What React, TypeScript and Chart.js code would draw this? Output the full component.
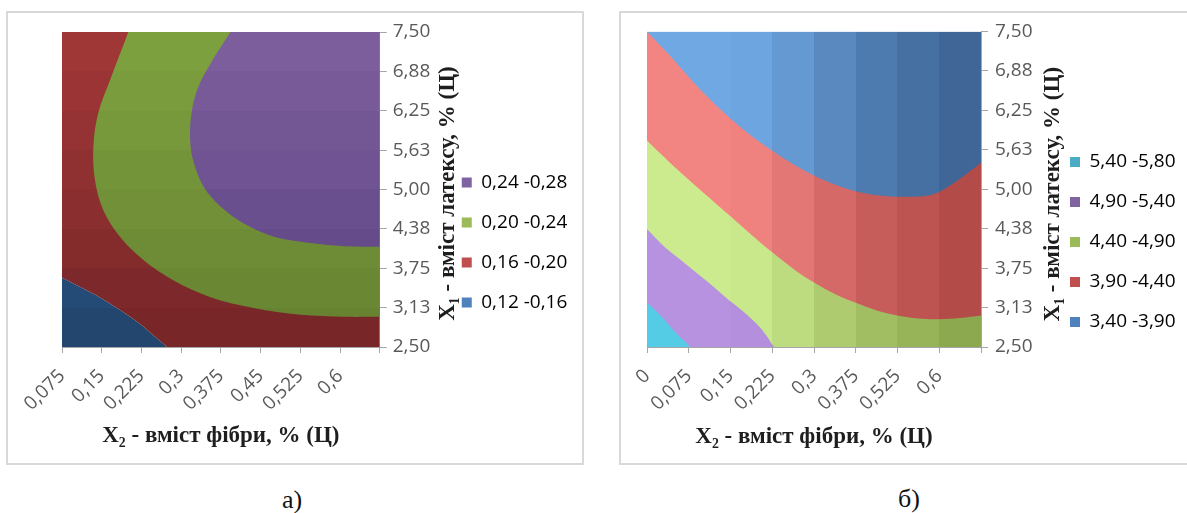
import React, { useEffect, useRef } from 'react';
import { Chart, registerables } from 'chart.js';

Chart.register(...registerables);

// ---------------- shared axis data ----------------
const X_TICK_POS = [0, 1, 2, 3, 4, 5, 6, 7, 8];
const Y_TICKS = [2.5, 3.125, 3.75, 4.375, 5.0, 5.625, 6.25, 6.875, 7.5];
const Y_LABELS = ['2,50', '3,13', '3,75', '4,38', '5,00', '5,63', '6,25', '6,88', '7,50'];
const X_TITLE = 'X₂ - вміст фібри, % (Ц)';
const Y_TITLE = 'X₁ - вміст латексу, % (Ц)';

// ---------------- chart а) ----------------
const A_X_LABELS = ['0,075', '0,15', '0,225', '0,3', '0,375', '0,45', '0,525', '0,6'];
const A_SERIES = ['0,24 -0,28', '0,20 -0,24', '0,16 -0,20', '0,12 -0,16'];
// contour line 0,16 (blue | red)
const A_B016_X = [0, 0.5, 1.0, 1.5, 2.0, 2.35, 2.65, 3.05, 8];
const A_B016_Y = [3.6, 3.44, 3.27, 3.07, 2.85, 2.66, 2.5, 2.3, 2.3];
// contour line 0,20 (red | green)
const A_B020_X = [0, 2.02, 1.67, 1.21, 0.91, 0.79, 0.83, 1.04, 1.46, 2.05, 2.8, 3.74, 4.82, 6.01, 7.1, 8];
const A_B020_Y = [8.1, 8.1, 7.5, 6.74, 6.21, 5.68, 5.15, 4.67, 4.25, 3.88, 3.56, 3.29, 3.12, 3.01, 2.98, 2.98];
// contour line 0,24 (green | purple)
const A_B024_X = [0, 4.74, 4.24, 3.74, 3.4, 3.25, 3.23, 3.32, 3.57, 3.99, 4.58, 5.34, 6.26, 7.1, 8];
const A_B024_Y = [8.0, 8.0, 7.5, 7.0, 6.58, 6.16, 5.74, 5.42, 5.04, 4.73, 4.46, 4.25, 4.15, 4.1, 4.09];

// ---------------- chart б) ----------------
const B_X_LABELS = ['0', '0,075', '0,15', '0,225', '0,3', '0,375', '0,525', '0,6'];
const B_SERIES = ['5,40 -5,80', '4,90 -5,40', '4,40 -4,90', '3,90 -4,40', '3,40 -3,90'];
// plot top edge (blue fills everything below it)
const B_TOP_X = [0, 8];
const B_TOP_Y = [7.5, 7.5];
// contour line 3,90 (blue | red)
const B_B390_X = [0, 0.6, 1.16, 1.8, 2.36, 3.0, 3.65, 4.29, 4.93, 5.57, 6.22, 6.86, 7.42, 8];
const B_B390_Y = [7.5, 7.08, 6.66, 6.24, 5.92, 5.61, 5.34, 5.13, 4.98, 4.9, 4.88, 4.92, 5.13, 5.42];
// contour line 4,40 (red | green)
const B_B440_X = [0, 0.5, 1, 1.5, 2, 2.5, 3, 3.5, 4, 4.5, 5, 5.5, 6, 6.5, 7, 7.5, 8];
const B_B440_Y = [5.77, 5.45, 5.15, 4.86, 4.57, 4.28, 4.0, 3.74, 3.52, 3.34, 3.2, 3.08, 3.0, 2.95, 2.94, 2.96, 3.0];
// contour line 4,90 (green | purple)
const B_B490_X = [0, 0.43, 0.92, 1.4, 1.88, 2.36, 2.76, 3.04];
const B_B490_Y = [4.37, 4.08, 3.82, 3.56, 3.29, 3.03, 2.77, 2.5];
// contour line 5,40 (purple | cyan)
const B_B540_X = [0, 0.35, 0.67, 1.04];
const B_B540_Y = [3.21, 2.98, 2.74, 2.5];

// ---------------- styles ----------------
type RGB = [number, number, number];
const A_LEGEND = ['#8064A2', '#9BBB59', '#C0504D', '#4F81BD'];
const B_LEGEND = ['#4BACC6', '#8064A2', '#9BBB59', '#C0504D', '#4F81BD'];
const A_ROW_SHADE = [0, 0.12, 0.24, 0.37, 0.5, 0.63, 0.77, 0.9];
const B_COL_SHADE = [0, 0, 0.05, 0.22, 0.45, 0.65, 0.8, 0.95];

const rgb = (c: RGB) => `rgb(${c[0]},${c[1]},${c[2]})`;
const mix = (a: RGB, b: RGB, t: number): RGB =>
  [0, 1, 2].map((i) => Math.round(a[i] + (b[i] - a[i]) * t)) as RGB;
const clamp01 = (v: number) => Math.max(0, Math.min(1, v));
const pts = (xs: number[], ys: number[]) => xs.map((x, i) => ({ x, y: ys[i] }));

function bandGradient(chart: any, light: RGB, dark: RGB, shades: number[], dir: 'x' | 'y') {
  const area = chart.chartArea;
  if (!area || !chart.scales || !chart.scales.x) return rgb(light);
  const ctx = chart.ctx as CanvasRenderingContext2D;
  if (dir === 'x') {
    const sc = chart.scales.x;
    const w = area.right - area.left;
    const g = ctx.createLinearGradient(area.left, 0, area.right, 0);
    shades.forEach((t, i) => {
      const c = rgb(mix(light, dark, t));
      g.addColorStop(clamp01((sc.getPixelForValue(X_TICK_POS[i]) - area.left) / w), c);
      g.addColorStop(clamp01((sc.getPixelForValue(X_TICK_POS[i + 1]) - area.left) / w), c);
    });
    return g;
  }
  const sc = chart.scales.y;
  const h = area.bottom - area.top;
  const g = ctx.createLinearGradient(0, area.top, 0, area.bottom);
  const n = Y_TICKS.length;
  shades.forEach((t, r) => {
    const c = rgb(mix(light, dark, t));
    g.addColorStop(clamp01((sc.getPixelForValue(Y_TICKS[n - 1 - r]) - area.top) / h), c);
    g.addColorStop(clamp01((sc.getPixelForValue(Y_TICKS[n - 2 - r]) - area.top) / h), c);
  });
  return g;
}

function region(label: string, xs: number[], ys: number[], fill: string, light: RGB, dark: RGB, shades: number[], dir: 'x' | 'y') {
  return {
    label,
    data: pts(xs, ys),
    fill,
    tension: 0.35,
    borderWidth: 0,
    borderColor: 'rgba(0,0,0,0)',
    pointRadius: 0,
    pointHoverRadius: 0,
    backgroundColor: (c: any) => bandGradient(c.chart, light, dark, shades, dir),
  };
}

const yTitlePlugin = {
  id: 'yTitle',
  afterDraw(chart: any, _args: any, opts: any) {
    const s = chart.scales.y;
    const a = chart.chartArea;
    const ctx = chart.ctx as CanvasRenderingContext2D;
    ctx.save();
    ctx.translate(s.right + opts.offset, (a.top + a.bottom) / 2 + opts.dy);
    ctx.rotate(-Math.PI / 2);
    ctx.font = 'bold 23px "Liberation Serif"';
    ctx.fillStyle = '#1e1e1e';
    ctx.textAlign = 'center';
    ctx.textBaseline = 'middle';
    ctx.fillText(opts.text, 0, 0);
    ctx.restore();
  },
};

const TICK_FONT = { family: "'Open Sans'", size: 19 };
const TICK_COLOR = '#595959';
const AXIS_COLOR = '#a6a6a6';

interface Cfg {
  width: number;
  height: number;
  xLabels: string[];
  series: string[];
  legend: string[];
  datasets: any[];
  padding: { top: number; left: number; bottom: number; right: number };
  xHeight: number;
  yWidth: number;
  yPad: number;
  titleOffset: number;
  titleDy: number;
}

function buildConfig(cfg: Cfg): any {
  return {
    type: 'line',
    data: { datasets: cfg.datasets },
    plugins: [yTitlePlugin],
    options: {
      responsive: false,
      animation: false,
      events: [],
      layout: { padding: cfg.padding },
      scales: {
        x: {
          type: 'linear',
          min: 0,
          max: 8,
          afterBuildTicks: (s: any) => {
            s.ticks = X_TICK_POS.map((v) => ({ value: v }));
          },
          afterFit: (s: any) => {
            s.height = cfg.xHeight;
          },
          ticks: {
            autoSkip: false,
            minRotation: 45,
            maxRotation: 45,
            padding: 12,
            color: TICK_COLOR,
            font: TICK_FONT,
            callback: (_v: any, i: number) => cfg.xLabels[i] ?? '',
          },
          grid: { drawOnChartArea: false, drawTicks: true, tickLength: 6, color: AXIS_COLOR },
          border: { display: true, color: AXIS_COLOR },
          title: {
            display: true,
            text: X_TITLE,
            color: '#1e1e1e',
            font: { family: "'Liberation Serif'", size: 23, weight: 'bold' },
            padding: { top: 0, bottom: 3 },
          },
        },
        y: {
          type: 'linear',
          position: 'right',
          min: 2.5,
          max: 7.5,
          afterBuildTicks: (s: any) => {
            s.ticks = Y_TICKS.map((v) => ({ value: v }));
          },
          afterFit: (s: any) => {
            s.width = cfg.yWidth;
          },
          ticks: {
            padding: cfg.yPad,
            color: TICK_COLOR,
            font: TICK_FONT,
            callback: (_v: any, i: number) => Y_LABELS[i],
          },
          grid: { drawOnChartArea: false, drawTicks: true, tickLength: 7, color: AXIS_COLOR },
          border: { display: true, color: AXIS_COLOR },
        },
      },
      plugins: {
        tooltip: { enabled: false },
        title: { display: false },
        legend: {
          position: 'right',
          align: 'center',
          labels: {
            boxWidth: 10,
            boxHeight: 10,
            padding: 21,
            color: TICK_COLOR,
            font: TICK_FONT,
            generateLabels: () =>
              cfg.series.map((text, i) => ({
                text,
                fillStyle: cfg.legend[i],
                strokeStyle: cfg.legend[i],
                lineWidth: 0,
                hidden: false,
                datasetIndex: i,
              })),
          },
        },
        yTitle: { text: Y_TITLE, offset: cfg.titleOffset, dy: cfg.titleDy },
      },
    },
  };
}

const A_CFG: Cfg = {
  width: 574,
  height: 450,
  xLabels: A_X_LABELS,
  series: A_SERIES,
  legend: A_LEGEND,
  datasets: [
    region(A_SERIES[0], A_B024_X, A_B024_Y, 'end', [124, 94, 156], [88, 64, 128], A_ROW_SHADE, 'y'),
    region(A_SERIES[1], A_B020_X, A_B020_Y, 'end', [125, 160, 62], [100, 128, 48], A_ROW_SHADE, 'y'),
    region(A_SERIES[2], A_B016_X, A_B016_Y, 'end', [160, 55, 55], [115, 36, 38], A_ROW_SHADE, 'y'),
    region(A_SERIES[3], A_B016_X, A_B016_Y, 'start', [50, 105, 155], [32, 66, 105], A_ROW_SHADE, 'y'),
  ],
  padding: { top: 19, left: 54, bottom: 10, right: 15 },
  xHeight: 106,
  yWidth: 61,
  yPad: 6,
  titleOffset: 7,
  titleDy: 4,
};

const B_CFG: Cfg = {
  width: 566,
  height: 450,
  xLabels: B_X_LABELS,
  series: B_SERIES,
  legend: B_LEGEND,
  datasets: [
    region(B_SERIES[0], B_B540_X, B_B540_Y, 'start', [84, 204, 230], [50, 150, 175], B_COL_SHADE, 'x'),
    region(B_SERIES[1], B_B490_X, B_B490_Y, 'start', [182, 146, 225], [120, 90, 170], B_COL_SHADE, 'x'),
    region(B_SERIES[2], B_B440_X, B_B440_Y, 'start', [204, 234, 142], [138, 166, 76], B_COL_SHADE, 'x'),
    region(B_SERIES[3], B_B390_X, B_B390_Y, 'start', [242, 132, 130], [176, 72, 70], B_COL_SHADE, 'x'),
    region(B_SERIES[4], B_TOP_X, B_TOP_Y, 'start', [112, 168, 228], [60, 98, 146], B_COL_SHADE, 'x'),
  ],
  padding: { top: 17, left: 26, bottom: 9, right: 4 },
  xHeight: 107,
  yWidth: 68,
  yPad: 7,
  titleOffset: 4,
  titleDy: 5,
};

function ContourChart({ cfg }: { cfg: Cfg }) {
  const ref = useRef<HTMLCanvasElement>(null);
  useEffect(() => {
    if (!ref.current) return;
    const chart = new Chart(ref.current, buildConfig(cfg));
    return () => chart.destroy();
  }, [cfg]);
  return (
    <canvas
      ref={ref}
      width={cfg.width}
      height={cfg.height}
      style={{ display: 'block', width: cfg.width, height: cfg.height }}
    />
  );
}

const caption = (x: number, y: number): React.CSSProperties => ({
  position: 'absolute',
  left: x,
  top: y,
  transform: 'translate(-50%, -50%)',
  font: '26px "Liberation Serif"',
  color: '#111',
  lineHeight: 1,
  whiteSpace: 'nowrap',
});

export default function App() {
  return (
    <div
      style={{
        position: 'fixed',
        left: 0,
        top: 0,
        width: 1187,
        height: 513,
        overflow: 'hidden',
        background: '#ffffff',
      }}
    >
      <div
        style={{
          position: 'absolute',
          left: 6,
          top: 11,
          width: 578,
          height: 454,
          border: '2px solid #d9d9d9',
          boxSizing: 'border-box',
          background: '#fff',
        }}
      >
        <ContourChart cfg={A_CFG} />
      </div>
      <div
        style={{
          position: 'absolute',
          left: 619,
          top: 11,
          width: 620,
          height: 454,
          border: '2px solid #d9d9d9',
          boxSizing: 'border-box',
          background: '#fff',
        }}
      >
        <ContourChart cfg={B_CFG} />
      </div>
      <div style={caption(292, 500)}>а)</div>
      <div style={caption(909, 499)}>б)</div>
    </div>
  );
}
